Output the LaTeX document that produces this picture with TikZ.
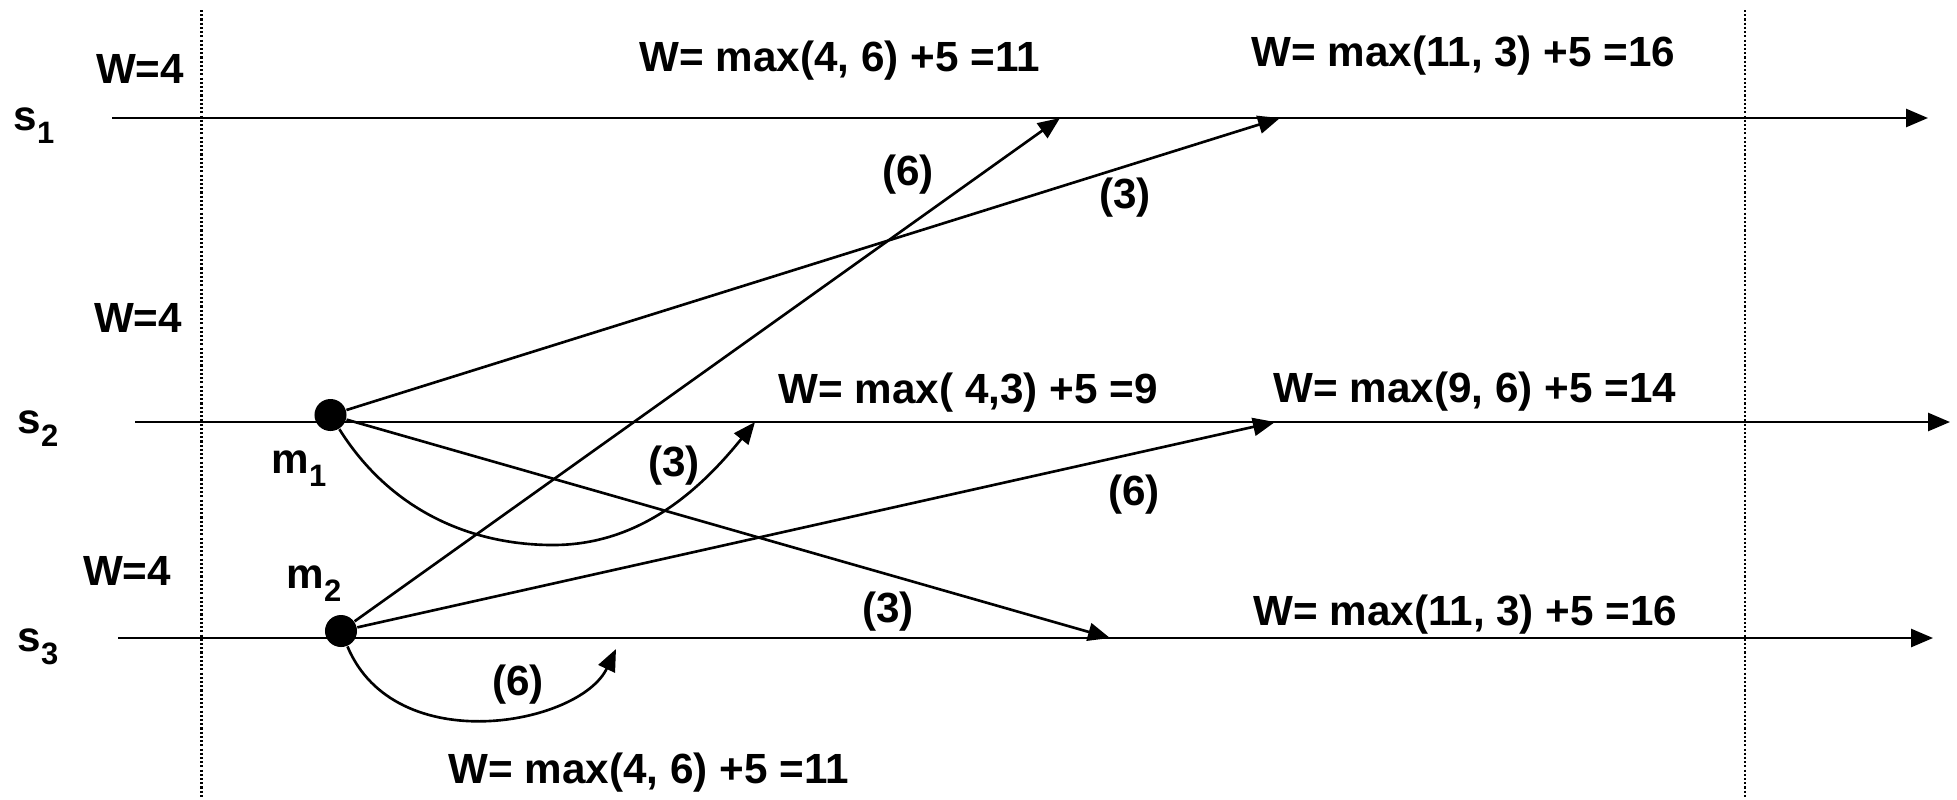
\documentclass[tikz,border=0pt]{standalone}
\usepackage{fontspec}
\setmainfont{Liberation Sans}
\usetikzlibrary{arrows.meta}
\newcommand{\sbs}[1]{\raisebox{-0.13cm}{\fontsize{8.8}{10}\selectfont #1}}
\begin{document}
\begin{tikzpicture}[x=0.01cm,y=-0.01cm,
  txt/.style={font=\fontsize{12}{14}\selectfont\bfseries, inner sep=0pt, anchor=base west},
  ctxt/.style={txt, anchor=base},
  tl/.style={line width=0.7pt},
  arr/.style={line width=0.75pt, -{Triangle[length=0.22cm,width=0.18cm]}},
  guide/.style={line width=0.6pt, dash pattern=on 0.6pt off 0.6pt},
  dot/.style={circle, fill=black, inner sep=0pt, minimum size=0.32cm}]
\useasboundingbox (0,0) rectangle (1957,799);

% guide lines
\coordinate (g1a) at (201.5,10);
\coordinate (g1b) at (201.5,799);
\coordinate (g2a) at (1745,10);
\coordinate (g2b) at (1745,799);
\draw[guide] (g1a) -- (g1b);
\draw[guide] (g2a) -- (g2b);

% time lines
\coordinate (s1a) at (112,118);
\coordinate (s1b) at (1928,118);
\coordinate (s2a) at (135,422);
\coordinate (s2b) at (1950,422);
\coordinate (s3a) at (118,638);
\coordinate (s3b) at (1933,638);
\draw[arr] (s1a) -- (s1b);
\draw[arr] (s2a) -- (s2b);
\draw[arr] (s3a) -- (s3b);

% process labels
\node[txt] (ls1) at (13,130) {s\sbs{1}};
\node[txt] (ls2) at (17,433) {s\sbs{2}};
\node[txt] (ls3) at (17,651) {s\sbs{3}};

% initial weights
\node[ctxt] (w1) at (140,83) {W=4};
\node[ctxt] (w2) at (138,332) {W=4};
\node[ctxt] (w3) at (127,585) {W=4};

% message events
\node[dot] (m1) at (330.5,415) {};
\node[dot] (m2) at (341,631) {};
\node[txt] (lm1) at (271,473) {m\sbs{1}};
\node[txt] (lm2) at (286,588) {m\sbs{2}};

% targets
\coordinate (t1) at (1060,118);
\coordinate (t2) at (1280,118);
\coordinate (t3) at (755,422);
\coordinate (t4) at (1110,638);
\coordinate (t5) at (1275,422);
\coordinate (t6) at (616,649);

\draw[arr] (m2) -- (t1);
\draw[arr] (m1) -- (t2);
\draw[arr] (m1) .. controls (390,510) and (470,545) .. (553,545)
                .. controls (640,545) and (700,490) .. (t3);
\draw[arr] (m1) -- (t4);
\draw[arr] (m2) -- (t5);
\draw[arr] (m2) .. controls (395,760) and (580,725) .. (t6);

% message weights
\node[ctxt] (c1) at (908,185) {(6)};
\node[ctxt] (c2) at (1125,208) {(3)};
\node[ctxt] (c3) at (674,476) {(3)};
\node[ctxt] (c4) at (1134,505) {(6)};
\node[ctxt] (c5) at (888,622) {(3)};
\node[ctxt] (c6) at (518,695) {(6)};

% results
\node[txt] (r1) at (639,71) {W= max(4, 6) +5 =11};
\node[txt] (r2) at (1251,66) {W= max(11, 3) +5 =16};
\node[txt] (r3) at (778,403) {W= max( 4,3) +5 =9};
\node[txt] (r4) at (1273,402) {W= max(9, 6) +5 =14};
\node[txt] (r5) at (1253,625) {W= max(11, 3) +5 =16};
\node[txt] (r6) at (448,783) {W= max(4, 6) +5 =11};
\end{tikzpicture}
\end{document}
